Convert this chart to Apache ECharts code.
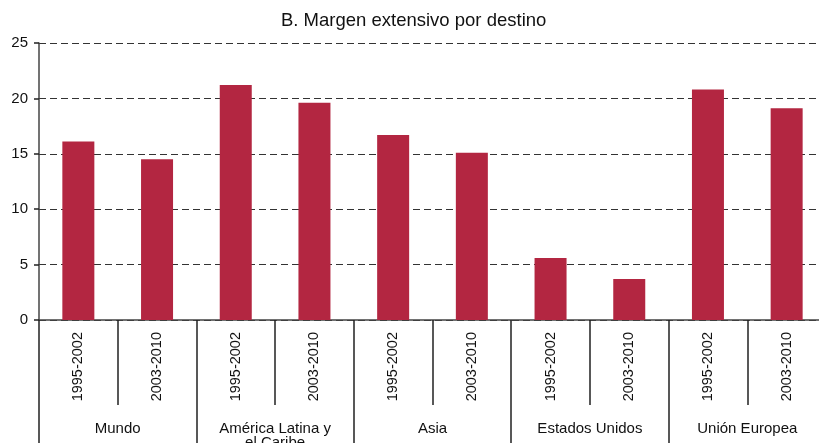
<!DOCTYPE html>
<html>
<head>
<meta charset="utf-8">
<script src="https://cdn.jsdelivr.net/npm/echarts@6/dist/echarts.min.js"></script>
<style>
  html, body { margin: 0; padding: 0; background: #fff; overflow: hidden; }
  /* the plot area runs slightly past the right edge of the window */
  #chart { width: 826px; height: 443px; }
</style>
</head>
<body>
<div id="chart"></div>
<script>
// Destination groups (outer axis) and the two periods within each (inner axis)
const groups = ['Mundo', 'América Latina y\nel Caribe', 'Asia', 'Estados Unidos', 'Unión Europea'];
const periods = ['1995-2002', '2003-2010'];
// Extensive margin per destination and period, in group order
const values = [16.1, 14.5, 21.2, 19.6, 16.7, 15.1, 5.6, 3.7, 20.8, 19.1];
// Value axis ticks
const yTicks = [0, 5, 10, 15, 20, 25];

const innerCats = [];
groups.forEach(() => periods.forEach(p => innerCats.push(p)));

const FONT = 'Liberation Sans, Arial, sans-serif';
const chart = echarts.init(document.getElementById('chart'), null, { renderer: 'canvas' });

chart.setOption({
  animation: false,
  backgroundColor: '#fff',
  title: {
    text: 'B. Margen extensivo por destino',
    left: 281,
    top: 11,
    padding: 0,
    textStyle: { fontFamily: FONT, fontSize: 18.5, fontWeight: 'normal', color: '#111' }
  },
  grid: {
    left: 39, width: 787, top: 43, height: 277,
    containLabel: false,
    outerBoundsMode: 'none'
  },
  xAxis: [
    {
      type: 'category',
      data: innerCats,
      position: 'bottom',
      axisLine: { show: true, lineStyle: { color: '#444', width: 1.5 } },
      axisTick: { show: true, interval: 0, length: 85, lineStyle: { color: '#222', width: 1.5 } },
      axisLabel: {
        interval: 0, rotate: 90, margin: 12,
        fontFamily: FONT, fontSize: 14.5, color: '#111'
      },
      splitLine: { show: false }
    },
    {
      type: 'category',
      data: groups,
      position: 'bottom',
      axisLine: { show: false },
      axisTick: { show: true, interval: 0, length: 130, lineStyle: { color: '#222', width: 1.5 } },
      axisLabel: {
        interval: 0, margin: 102,
        fontFamily: FONT, fontSize: 15, lineHeight: 14, color: '#111'
      },
      splitLine: { show: false }
    }
  ],
  yAxis: {
    type: 'value',
    min: yTicks[0],
    max: yTicks[yTicks.length - 1],
    interval: 5,
    axisLine: { show: true, lineStyle: { color: '#444', width: 1.5 } },
    axisTick: { show: true, length: 5, lineStyle: { color: '#222', width: 1.5 } },
    axisLabel: { margin: 11, fontFamily: FONT, fontSize: 15, color: '#111' },
    splitLine: { show: true, lineStyle: { color: '#333', width: 1, type: [7, 4] } }
  },
  series: [
    {
      type: 'bar',
      xAxisIndex: 0,
      data: values,
      barWidth: 32,
      itemStyle: { color: '#b32641' }
    }
  ]
});
</script>
</body>
</html>
